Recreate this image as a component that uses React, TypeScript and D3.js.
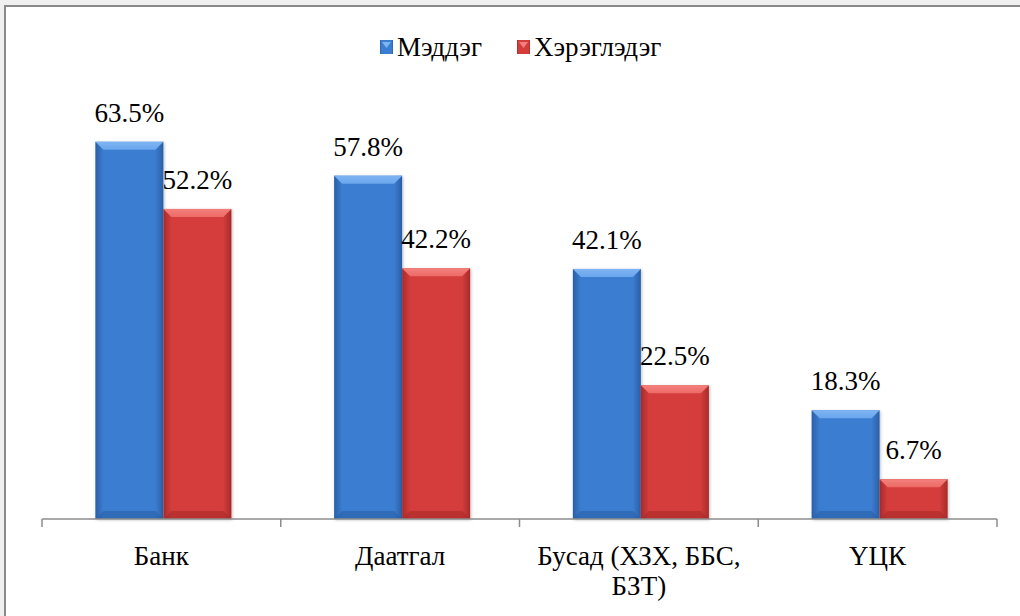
import * as d3 from "d3";
import React from "react";

const categories = ["Банк", "Даатгал", "Бусад (ХЗХ, ББС, БЗТ)", "ҮЦК"];
const categoryLines = [["Банк"], ["Даатгал"], ["Бусад (ХЗХ, ББС,", "БЗТ)"], ["ҮЦК"]];
const seriesNames = ["Мэддэг", "Хэрэглэдэг"];
const knowValues = [63.5, 57.8, 42.1, 18.3];
const useValues = [52.2, 42.2, 22.5, 6.7];
const yMax = 70;

const WIDTH = 1020;
const HEIGHT = 616;
const FONT = '"Liberation Serif", "Times New Roman", Tinos, "DejaVu Serif", serif';

const palette = [
  { id: "blue", light: "#6aa6ee", mid: "#3b7dd0", dark: "#2a5fa6", top: "#7fb4f2" },
  { id: "red", light: "#ee6a66", mid: "#d43d3b", dark: "#a82a2a", top: "#f2807c" },
];

const textStyle: React.CSSProperties = { fontFamily: FONT, fontSize: 27 };

export default function App(): React.ReactElement {
  const left = 42;
  const right = 997;
  const baseline = 519;

  const x = d3.scaleBand<string>().domain(categories).range([left, right]).padding(0);
  const xs = d3
    .scaleBand<string>()
    .domain(seriesNames)
    .range([2, x.bandwidth() + 2])
    .paddingInner(0)
    .paddingOuter(0.755);
  const y = d3.scaleLinear().domain([0, yMax]).range([baseline, baseline - yMax * 5.94]);

  const series = [knowValues, useValues];
  const ticks = [...categories.map((c) => x(c) ?? 0), right];

  return (
    <div style={{ position: "absolute", left: 0, top: 0, fontFamily: FONT }}>
      <svg width={WIDTH} height={HEIGHT} style={{ display: "block" }}>
        <defs>
          {palette.map((p) => (
            <React.Fragment key={p.id}>
              <linearGradient id={`side-${p.id}`} x1="0" x2="1" y1="0" y2="0">
                <stop offset="0" stopColor={p.dark} />
                <stop offset="0.12" stopColor={p.mid} />
                <stop offset="0.88" stopColor={p.mid} />
                <stop offset="1" stopColor={p.dark} />
              </linearGradient>
              <linearGradient id={`top-${p.id}`} x1="0" x2="0" y1="0" y2="1">
                <stop offset="0" stopColor={p.top} />
                <stop offset="1" stopColor={p.light} />
              </linearGradient>
            </React.Fragment>
          ))}
          <filter id="shadow" x="-20%" y="-20%" width="140%" height="140%">
            <feDropShadow dx="1" dy="1" stdDeviation="1.5" floodColor="#000" floodOpacity="0.25" />
          </filter>
        </defs>

        {/* frame */}
        <rect x={0} y={0} width={WIDTH} height={HEIGHT} fill="#f0f0f0" />
        <rect x={5} y={6} width={1100} height={700} fill="#fff" stroke="#8a8a8a" strokeWidth={2} />

        {/* legend */}
        <g style={textStyle} fill="#000">
          {seriesNames.map((s, i) => {
            const lx = i === 0 ? 380 : 517;
            const p = palette[i];
            return (
              <g key={s} transform={`translate(${lx},40)`}>
                <rect width={13} height={14} fill={`url(#side-${p.id})`} />
                <polygon points="2,2 11,2 6.5,8" fill={p.top} />
                <text x={17} y={16}>
                  {s}
                </text>
              </g>
            );
          })}
        </g>

        {/* bars */}
        {categories.map((c, ci) =>
          seriesNames.map((s, si) => {
            const v = series[si][ci];
            const bx = (x(c) ?? 0) + (xs(s) ?? 0);
            const bw = xs.bandwidth();
            const by = y(v);
            const bh = baseline - by;
            const p = palette[si];
            const bev = 8;
            return (
              <g key={`${c}-${s}`}>
                <rect x={bx} y={by} width={bw} height={bh} fill={`url(#side-${p.id})`} filter="url(#shadow)" />
                <polygon
                  points={`${bx},${by} ${bx + bw},${by} ${bx + bw - bev},${by + bev} ${bx + bev},${by + bev}`}
                  fill={`url(#top-${p.id})`}
                />
                <polygon
                  points={`${bx},${baseline} ${bx + bw},${baseline} ${bx + bw - bev},${baseline - bev} ${bx + bev},${baseline - bev}`}
                  fill={p.dark}
                  opacity={0.6}
                />
                <text x={bx + bw / 2} y={by - 20} textAnchor="middle" style={textStyle} fill="#000">
                  {v.toFixed(1)}%
                </text>
              </g>
            );
          })
        )}

        {/* axis */}
        <line x1={left} x2={right} y1={baseline} y2={baseline} stroke="#8c8c8c" strokeWidth={1.5} />
        {ticks.map((t, i) => (
          <line key={i} x1={t} x2={t} y1={baseline} y2={baseline + 8} stroke="#8c8c8c" strokeWidth={1.5} />
        ))}

        {/* category labels */}
        {categories.map((c, ci) => (
          <text key={c} x={(x(c) ?? 0) + x.bandwidth() / 2} y={565} textAnchor="middle" style={textStyle} fill="#000">
            {categoryLines[ci].map((line, li) => (
              <tspan key={li} x={(x(c) ?? 0) + x.bandwidth() / 2} dy={li === 0 ? 0 : 30}>
                {line}
              </tspan>
            ))}
          </text>
        ))}
      </svg>
    </div>
  );
}
